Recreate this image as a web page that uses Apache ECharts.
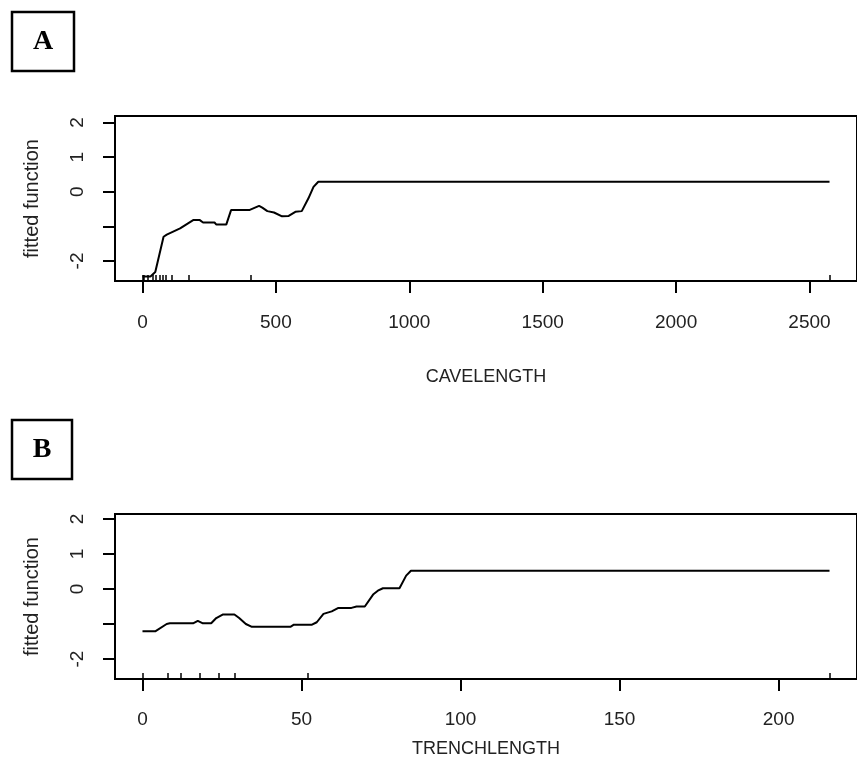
<!DOCTYPE html>
<html>
<head>
<meta charset="utf-8">
<script src="https://cdn.jsdelivr.net/npm/echarts@6/dist/echarts.min.js"></script>
<style>html,body{margin:0;padding:0;background:#fff}#c{width:857px;height:780px}</style>
</head>
<body>
<div id="c"></div>
<script>
// Panel A: CAVELENGTH
const caveX = [0, 30, 48, 79, 91, 141, 190, 215, 227, 270, 277, 314, 332, 400, 437, 449, 468, 493, 523, 548, 573, 597, 622, 641, 659, 2575];
const caveY = [-2.45, -2.45, -2.32, -1.30, -1.24, -1.06, -0.82, -0.82, -0.89, -0.89, -0.95, -0.95, -0.53, -0.53, -0.41, -0.46, -0.56, -0.60, -0.71, -0.70, -0.58, -0.56, -0.19, 0.14, 0.29, 0.29];
const caveRug = [0, 5, 20, 38, 50, 63, 76, 88, 110, 175, 407, 2575];
const caveTicks = [0, 500, 1000, 1500, 2000, 2500];

// Panel B: TRENCHLENGTH
const trenchX = [0, 4, 7.6, 8.6, 15.9, 17.4, 19, 21.6, 23.2, 25.2, 28.9, 30.4, 32.5, 34.4, 46.5, 47.6, 53.3, 54.8, 56.9, 59.5, 61.6, 65.7, 67.3, 69.9, 72.5, 74, 75.6, 80.8, 82.9, 84.4, 216];
const trenchY = [-1.21, -1.21, -1.0, -0.98, -0.98, -0.91, -0.98, -0.98, -0.83, -0.73, -0.73, -0.83, -1.0, -1.08, -1.08, -1.02, -1.02, -0.95, -0.71, -0.64, -0.54, -0.54, -0.50, -0.50, -0.16, -0.05, 0.02, 0.02, 0.38, 0.52, 0.52];
const trenchRug = [0, 8, 12, 18, 24, 29, 52, 216];
const trenchTicks = [0, 50, 100, 150, 200];

const yTicks = [-2, -1, 0, 1, 2];
const yLabels = [-2, 0, 1, 2];

const FONT = 'Liberation Sans, Arial, sans-serif';
const chart = echarts.init(document.getElementById('c'), null, {renderer: 'canvas'});

function mainX(gridIndex, min, max, ticks, name, margin, gap) {
  return {
    type: 'value', gridIndex, position: 'bottom', min, max,
    name, nameLocation: 'middle', nameGap: gap,
    nameTextStyle: {color: '#222', fontFamily: FONT, fontSize: 18},
    splitLine: {show: false},
    axisLine: {show: true, onZero: false, lineStyle: {color: '#000', width: 2}},
    axisTick: {show: true, length: 12, lineStyle: {color: '#000', width: 2}, customValues: ticks},
    axisLabel: {show: true, margin, color: '#222', fontFamily: FONT, fontSize: 19, customValues: ticks,
                formatter: v => String(v)}
  };
}
function rugX(gridIndex, min, max, rug) {
  return {
    type: 'value', gridIndex, position: 'bottom', min, max,
    splitLine: {show: false},
    axisLine: {show: false, onZero: false},
    axisLabel: {show: false},
    axisTick: {show: true, inside: true, length: 6, lineStyle: {color: '#000', width: 1.5}, customValues: rug}
  };
}
function mainY(gridIndex, min, max) {
  return {
    type: 'value', gridIndex, min, max,
    name: 'fitted function', nameLocation: 'middle', nameGap: 73,
    nameTextStyle: {color: '#222', fontFamily: FONT, fontSize: 20},
    splitLine: {show: false},
    axisLine: {show: true, onZero: false, lineStyle: {color: '#000', width: 2}},
    axisTick: {show: true, length: 12, lineStyle: {color: '#000', width: 2}, customValues: yTicks},
    axisLabel: {show: true, rotate: 90, margin: 28, color: '#222', fontFamily: FONT, fontSize: 19, customValues: yLabels,
                formatter: v => String(v)}
  };
}

const option = {
  backgroundColor: '#fff',
  animation: false,
  grid: [
    {left: 115, right: -8, top: 116, height: 165, show: true, borderColor: '#000', borderWidth: 2, backgroundColor: 'transparent'},
    {left: 115, right: -8, top: 514, height: 165, show: true, borderColor: '#000', borderWidth: 2, backgroundColor: 'transparent'}
  ],
  xAxis: [
    mainX(0, -103, 2678, caveTicks, 'CAVELENGTH', 32, 87),
    rugX(0, -103, 2678, caveRug),
    mainX(1, -8.64, 224.64, trenchTicks, 'TRENCHLENGTH', 31, 61),
    rugX(1, -8.64, 224.64, trenchRug)
  ],
  yAxis: [
    mainY(0, -2.58, 2.19),
    mainY(1, -2.57, 2.14)
  ],
  series: [
    {type: 'line', xAxisIndex: 0, yAxisIndex: 0, showSymbol: false, silent: true,
     lineStyle: {color: '#000', width: 2}, data: caveX.map((x, i) => [x, caveY[i]])},
    {type: 'line', xAxisIndex: 2, yAxisIndex: 1, showSymbol: false, silent: true,
     lineStyle: {color: '#000', width: 2}, data: trenchX.map((x, i) => [x, trenchY[i]])}
  ],
  graphic: [
    {type: 'rect', shape: {x: 12, y: 12, width: 62, height: 59}, style: {fill: '#fff', stroke: '#000', lineWidth: 2.5}},
    {type: 'text', x: 43, y: 42, style: {text: 'A', fontFamily: 'Liberation Serif, Times New Roman, serif', fontWeight: 'bold', fontSize: 28, fill: '#000', align: 'center', verticalAlign: 'middle'}},
    {type: 'rect', shape: {x: 12, y: 420, width: 60, height: 59}, style: {fill: '#fff', stroke: '#000', lineWidth: 2.5}},
    {type: 'text', x: 42, y: 450, style: {text: 'B', fontFamily: 'Liberation Serif, Times New Roman, serif', fontWeight: 'bold', fontSize: 28, fill: '#000', align: 'center', verticalAlign: 'middle'}}
  ]
};
chart.setOption(option);
</script>
</body>
</html>
